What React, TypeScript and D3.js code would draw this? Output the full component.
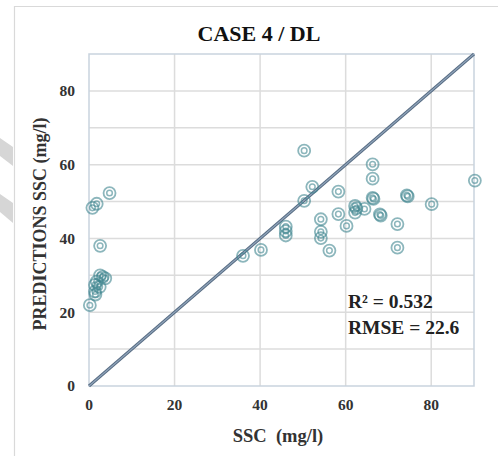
import React from 'react'
import * as d3 from 'd3'

const observed = [
  0.8, 1.8, 4.8, 2.6, 3.2, 3.8, 2.6, 1.8, 1.4, 2.5, 1.4, 1.5, 0.2,
  36.0, 40.2, 46.0, 46.0, 46.0, 50.3, 52.2, 50.3, 54.2, 54.2, 54.2, 56.2,
  58.3, 58.3, 60.2, 62.2, 62.5, 62.2, 64.4, 66.3, 66.3, 66.3, 66.5, 68.0,
  68.2, 72.1, 72.1, 74.3, 74.5, 80.1, 90.2
]
const predicted = [
  48.3, 49.4, 52.3, 38.0, 29.6, 29.2, 30.0, 28.3, 27.4, 26.9, 25.6, 24.8, 21.9,
  35.3, 36.9, 43.2, 42.0, 40.8, 63.8, 54.0, 50.2, 45.2, 41.8, 40.1, 36.7,
  52.7, 46.6, 43.4, 48.8, 48.2, 47.0, 48.0, 60.1, 56.2, 51.0, 50.7, 46.5,
  46.2, 43.9, 37.5, 51.7, 51.4, 49.3, 55.7
]
const xTicks = [0, 20, 40, 60, 80]
const yTicks = [0, 20, 40, 60, 80]
const yGrid = [10, 20, 30, 40, 50, 60, 70, 80]
const title = 'CASE 4 / DL'
const xTitle = 'SSC  (mg/l)'
const yTitle = 'PREDICTIONS SSC (mg/l)'
const stats = ['R² = 0.532', 'RMSE = 22.6']

const W = 498
const H = 456
const plot = { left: 89, right: 474, top: 54, bottom: 386 }
const font = '"Liberation Serif", "Times New Roman", serif'

const App = () => {
  const x = d3.scaleLinear().domain([0, 90]).range([plot.left, plot.right])
  const y = d3.scaleLinear().domain([0, 90]).range([plot.bottom, plot.top])
  const pts = observed.map((o, i) => ({ cx: x(o), cy: y(predicted[i]) }))
  const diag = d3.line<number>().x(d => x(d)).y(d => y(d))([0, 90])

  return (
    <svg width={W} height={H} style={{ position: 'absolute', left: 0, top: 0, background: '#fff' }}>
      {/* chart frame */}
      <path d={`M14.5,${H} V6.5 H${W}`} fill="none" stroke="#d9d9d9" strokeWidth={1.2} />
      {/* faint watermark bands */}
      <polygon points="0,138 13,147 13,166 0,156" fill="#d6d6d6" />
      <polygon points="0,194 13,203 13,223 0,212" fill="#d6d6d6" />

      {/* grid */}
      {yGrid.map(t => (
        <line key={'gy' + t} x1={plot.left} x2={plot.right} y1={y(t)} y2={y(t)} stroke="#dcdcdc" strokeWidth={1.5} />
      ))}
      {xTicks.slice(1).map(t => (
        <line key={'gx' + t} x1={x(t)} x2={x(t)} y1={plot.top} y2={plot.bottom} stroke="#dcdcdc" strokeWidth={1.5} />
      ))}
      <rect x={plot.left} y={plot.top} width={plot.right - plot.left} height={plot.bottom - plot.top}
        fill="none" stroke="#c9d3de" strokeWidth={1.5} />

      {/* 1:1 line */}
      <path d={diag || ''} stroke="#566b82" strokeWidth={3} fill="none" />
      <path d={diag || ''} stroke="#90a4ba" strokeWidth={1.1} fill="none" />

      {/* points */}
      {pts.map((p, i) => (
        <g key={i} stroke="#3f8590" fill="none" strokeOpacity={0.6}>
          <circle cx={p.cx} cy={p.cy} r={6} strokeWidth={1.8} />
          <circle cx={p.cx} cy={p.cy} r={2.8} strokeWidth={1.5} />
        </g>
      ))}

      {/* tick labels */}
      {xTicks.map(t => (
        <text key={'tx' + t} x={x(t)} y={410} textAnchor="middle" fontFamily={font} fontWeight="bold"
          fontSize={15.5} fill="#333">{t}</text>
      ))}
      {yTicks.map(t => (
        <text key={'ty' + t} x={75} y={y(t)} dy="0.35em" textAnchor="end" fontFamily={font} fontWeight="bold"
          fontSize={15.5} fill="#333">{t}</text>
      ))}

      {/* titles */}
      <text x={259} y={41} textAnchor="middle" fontFamily={font} fontWeight="bold" fontSize={22} fill="#111">{title}</text>
      <text x={278} y={442} textAnchor="middle" fontFamily={font} fontWeight="bold" fontSize={18.5} fill="#333"
        style={{ whiteSpace: 'pre' }}>{xTitle}</text>
      <text transform={`translate(46,224) rotate(-90)`} textAnchor="middle" fontFamily={font} fontWeight="bold"
        fontSize={18} fill="#333">{yTitle}</text>

      {/* statistics */}
      {stats.map((s, i) => (
        <text key={s} x={348} y={308 + i * 26} fontFamily={font} fontWeight="bold" fontSize={19.5} fill="#222">{s}</text>
      ))}
    </svg>
  )
}

export default App
